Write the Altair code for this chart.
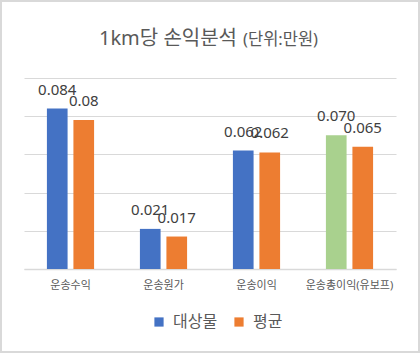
import altair as alt
import pandas as pd

categories = ["운송수익", "운송원가", "운송이익", "운송총이익(유보프)"]
series_names = ["대상물", "평균"]
target_values = [0.084, 0.021, 0.062, 0.070]
average_values = [0.078, 0.017, 0.061, 0.064]
target_labels = ["0.084", "0.021", "0.062", "0.070"]
average_labels = ["0.08", "0.017", "0.062", "0.065"]
highlight_category = "운송총이익(유보프)"
color_keys = ["대상물", "평균", "유보"]
color_range = ["#4472C4", "#ED7D31", "#A9D18E"]

rows = []
for i, c in enumerate(categories):
    rows.append(dict(category=c, series=series_names[0], value=target_values[i],
                     label=target_labels[i],
                     colorKey="유보" if c == highlight_category else "대상물"))
    rows.append(dict(category=c, series=series_names[1], value=average_values[i],
                     label=average_labels[i], colorKey="평균"))
df = pd.DataFrame(rows)

FONT = "Noto Sans, Noto Sans CJK KR"
GREY = "#595959"

x = alt.X("category:N", sort=categories,
          scale=alt.Scale(paddingInner=0.43, paddingOuter=0.215),
          axis=alt.Axis(title=None, labelAngle=0, labelFontSize=11, labelColor=GREY,
                        labelPadding=10, ticks=False, domainColor="#d9d9d9",
                        domainWidth=1.5, labelFont=FONT, grid=False))
xoff = alt.XOffset("series:N", sort=series_names,
                   scale=alt.Scale(paddingInner=0.22, paddingOuter=0.11))
y = alt.Y("value:Q", scale=alt.Scale(domain=[0, 0.1]),
          axis=alt.Axis(title=None, labels=False, ticks=False, domain=False,
                        values=[0, 0.02, 0.04, 0.06, 0.08, 0.1],
                        gridColor="#d9d9d9", gridWidth=1))

bars = alt.Chart(df).mark_bar().encode(
    x=x, xOffset=xoff, y=y,
    color=alt.Color("colorKey:N",
                    scale=alt.Scale(domain=color_keys, range=color_range),
                    legend=alt.Legend(title=None, orient="none", legendX=127, legendY=236,
                                      values=series_names,
                                      symbolType="square", symbolSize=85,
                                      labelFontSize=16, labelColor=GREY,
                                      direction="horizontal", columnPadding=13,
                                      labelOffset=6, labelFont=FONT,
                                      symbolStrokeWidth=0)),
)

labels = alt.Chart(df).mark_text(dy=-14, baseline="alphabetic", fontSize=15,
                                 color="#404040", font=FONT).encode(
    x=x, xOffset=xoff, y=y, text="label:N")

title_df = pd.DataFrame({"t": [0]})
title_main = alt.Chart(title_df).mark_text(
    text="1km당 손익분석", align="right", baseline="alphabetic",
    fontSize=20, color=GREY, font=FONT).encode(x=alt.value(213), y=alt.value(-33.5))
title_unit = alt.Chart(title_df).mark_text(
    text="(단위:만원)", align="left", baseline="alphabetic",
    fontSize=16.5, color=GREY, font=FONT).encode(x=alt.value(219), y=alt.value(-33.5))

border = alt.Chart(title_df).mark_rect(fillOpacity=0, stroke="#d9d9d9", strokeWidth=2).encode(
    x=alt.value(-23), x2=alt.value(395), y=alt.value(-77), y2=alt.value(274))

chart = alt.layer(border, bars, labels, title_main, title_unit).properties(
    width=372, height=191,
    autosize=alt.AutoSizeParams(type="none"),
    padding={"left": 24, "top": 78, "right": 24, "bottom": 84},
    background="white",
).configure_view(stroke=None)

chart.save("out.html", embed_options={"renderer": "svg", "actions": False})
